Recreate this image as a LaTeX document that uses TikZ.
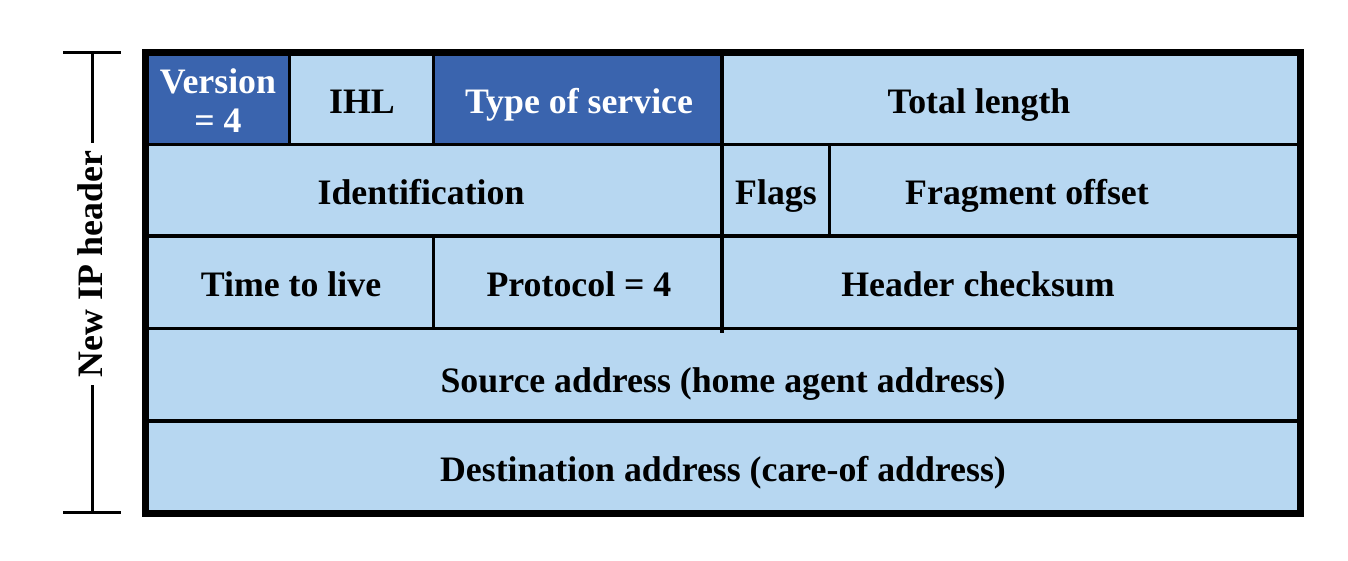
\documentclass[tikz,border=0pt]{standalone}
\usepackage{fontspec}
\setmainfont{Liberation Serif}
\definecolor{fieldblue}{RGB}{183,215,241}
\definecolor{darkfield}{RGB}{58,100,174}
\begin{document}
\begin{tikzpicture}[x=1pt,y=-1pt,
  txt/.style={font=\bfseries\fontsize{35.8}{39.5}\selectfont, inner sep=0pt, anchor=base},
  wtxt/.style={txt, text=white},
  rule/.style={line width=3.5pt, black},
  frame/.style={line width=7pt, black, line join=miter}]
\useasboundingbox (0,0) rectangle (1348,560);

% field backgrounds
\fill[fieldblue] (145.5,52) rectangle (1300.5,513);
\fill[darkfield] (145.5,52) rectangle (289.5,144.5);
\fill[darkfield] (433.5,52) rectangle (722,144.5);

% row separators
\foreach \y in {144.5,236,328.5,421}
  \draw[rule] (145.5,\y) -- (1300.5,\y);

% column separators
\draw[rule] (289.5,52) -- (289.5,144.5);
\draw[rule] (433.5,52) -- (433.5,144.5);
\draw[rule] (433.5,236) -- (433.5,328.5);
\draw[rule] (722,52) -- (722,333);
\draw[rule] (829.5,144.5) -- (829.5,236);

% outer frame
\draw[frame] (145.5,52) rectangle (1300.5,513);

% field labels
\node[wtxt, anchor=center, align=center] (ver) at (218,100.8) {Version\\= 4};
\node[txt] (ihl) at (362,113) {IHL};
\node[wtxt] (tos) at (579,113) {Type of service};
\node[txt] (tlen) at (979,113) {Total length};
\node[txt] (ident) at (421,204) {Identification};
\node[txt] (flags) at (776,204) {Flags};
\node[txt] (frag) at (1027,204) {Fragment offset};
\node[txt] (ttl) at (291,296) {Time to live};
\node[txt] (proto) at (579,296) {Protocol = 4};
\node[txt] (hcs) at (978,296) {Header checksum};
\node[txt] (src) at (723,392.5) {Source address (home agent address)};
\node[txt] (dst) at (723,481.5) {Destination address (care-of address)};

% header bracket
\node[font=\bfseries\fontsize{35.8}{39.5}\selectfont, rotate=90, inner xsep=7pt, inner ysep=0pt] (hdr) at (90,264) {New IP header};
\coordinate (btop) at (92.7,52.7);
\coordinate (bbot) at (92.7,512.7);
\draw[rule] (btop) -- (btop |- hdr.east);
\draw[rule] (bbot) -- (bbot |- hdr.west);
\draw[rule] ([xshift=-29.7pt]btop) -- ([xshift=28.3pt]btop);
\draw[rule] ([xshift=-29.7pt]bbot) -- ([xshift=28.3pt]bbot);
\end{tikzpicture}
\end{document}
